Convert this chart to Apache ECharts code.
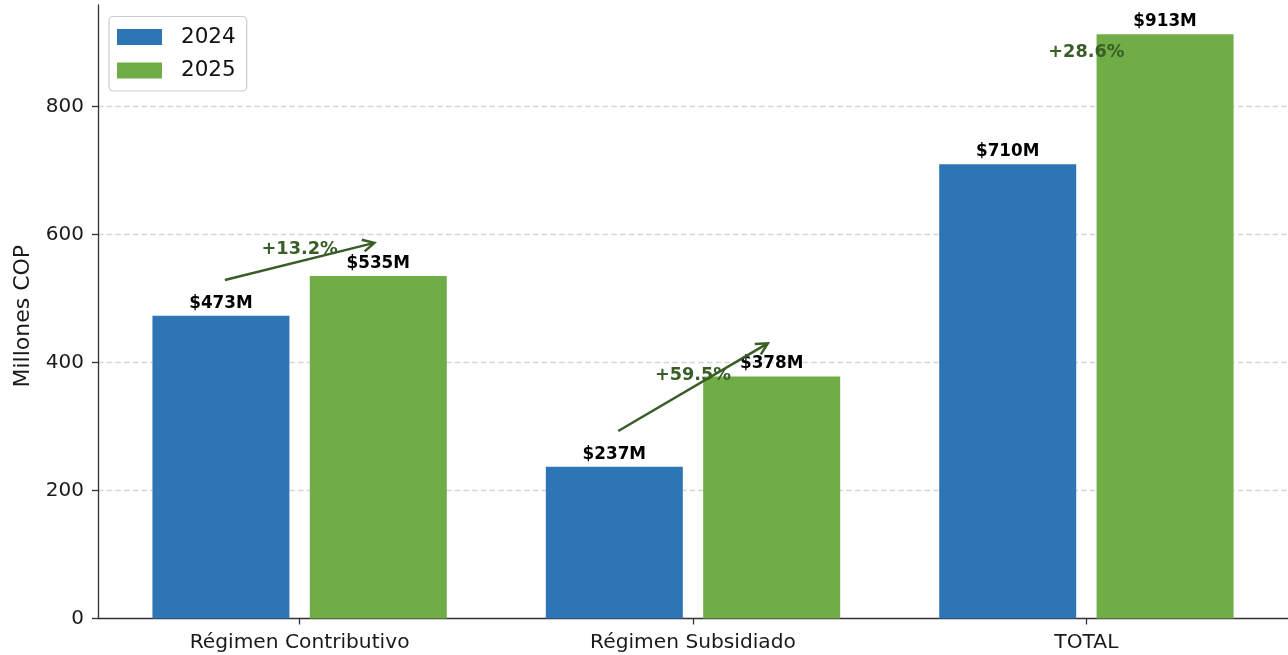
<!DOCTYPE html>
<html>
<head>
<meta charset="utf-8">
<script src="https://cdn.jsdelivr.net/npm/echarts@6/dist/echarts.min.js"></script>
<style>
html,body{margin:0;padding:0;background:#fff;}
#chart{width:1288px;height:655px;}
</style>
</head>
<body>
<div id="chart"></div>
<script>
// ---- data ----
const categories = ['Régimen Contributivo', 'Régimen Subsidiado', 'TOTAL'];
const values2024 = [473, 237, 710];
const values2025 = [535, 378, 913];
const pctLabels = ['+13.2%', '+59.5%', '+28.6%'];
const seriesNames = ['2024', '2025'];
const yTicks = [0, 200, 400, 600, 800];
const yAxisTitle = 'Millones COP';

// ---- layout helpers ----
const FONT = 'DejaVu Sans';
const BLUE = '#2E75B6';
const GREEN = '#70AD47';
const DARKGREEN = '#385D27';
const yMax = Math.max(...values2025) * 1.05;
const offsetX = 0.2;
const catIdx = categories.map((c, i) => i);

const chart = echarts.init(document.getElementById('chart'), null, {renderer: 'canvas'});

function barLabel(p) { return '$' + p.value[1] + 'M'; }

const option = {
  animation: false,
  backgroundColor: '#ffffff',
  textStyle: {fontFamily: FONT},
  grid: {left: 98, right: 0, top: 5, bottom: 36.5, containLabel: false},
  legend: {
    orient: 'vertical',
    left: 109, top: 16.5,
    padding: [9.5, 11, 9.5, 8],
    itemWidth: 45, itemHeight: 16, itemGap: 11.5,
    icon: 'rect',
    borderColor: '#cccccc', borderWidth: 1.2, borderRadius: 4,
    backgroundColor: 'rgba(255,255,255,0.8)',
    textStyle: {fontFamily: FONT, fontSize: 21.5, color: '#111', padding: [0, 0, 0, 14]},
    data: seriesNames
  },
  xAxis: {
    type: 'value', min: -0.5125, max: 2.5125,
    axisLine: {show: true, onZero: false, lineStyle: {color: '#333', width: 1.3}},
    axisTick: {show: true, customValues: catIdx, length: 6, lineStyle: {color: '#333', width: 1.3}},
    axisLabel: {customValues: catIdx, formatter: v => categories[Math.round(v)] || '',
      fontFamily: FONT, fontSize: 20.2, color: '#1a1a1a', margin: 14},
    splitLine: {show: false}
  },
  yAxis: {
    type: 'value', min: 0, max: yMax,
    name: yAxisTitle, nameLocation: 'middle', nameRotate: 90, nameGap: 64,
    nameTextStyle: {fontFamily: FONT, fontSize: 22, color: '#1a1a1a', padding: [0, 9, 0, 0]},
    axisLine: {show: true, onZero: false, lineStyle: {color: '#333', width: 1.3}},
    axisTick: {show: true, customValues: yTicks, length: 6, lineStyle: {color: '#333', width: 1.3}},
    axisLabel: {customValues: yTicks, fontFamily: FONT, fontSize: 20, color: '#1a1a1a', margin: 14},
    splitLine: {show: false}
  },
  series: [
    {
      name: 'grid', type: 'line', data: [], z: 0, silent: true,
      markLine: {
        silent: true, symbol: 'none', z: 0,
        label: {show: false},
        lineStyle: {color: '#d6d6d6', width: 1.3, type: [5.5, 3.2]},
        data: yTicks.filter(t => t > 0).map(t => ({yAxis: t}))
      }
    },
    {
      name: seriesNames[0], type: 'bar', z: 2,
      barWidth: 137, barGap: '-100%',
      itemStyle: {color: BLUE},
      label: {show: true, position: 'top', distance: 4, formatter: barLabel,
        fontFamily: FONT, fontWeight: 'bold', fontSize: 16.8, color: '#000'},
      data: values2024.map((v, i) => [i - offsetX, v])
    },
    {
      name: seriesNames[1], type: 'bar', z: 2,
      barWidth: 137, barGap: '-100%',
      itemStyle: {color: GREEN},
      label: {show: true, position: 'top', distance: 4, formatter: barLabel,
        fontFamily: FONT, fontWeight: 'bold', fontSize: 16.8, color: '#000'},
      data: values2025.map((v, i) => [i + offsetX, v])
    },
    {
      name: 'annot', type: 'custom', z: 5, silent: true, clip: false,
      data: catIdx.map(i => [i, (values2024[i] + values2025[i]) / 2]),
      encode: {x: 0, y: 1},
      renderItem: function (params, api) {
        const i = params.dataIndex;
        const a = values2024[i], b = values2025[i];
        const tp = api.coord([i, (a + b) / 2 + 73]);
        const children = [{
          type: 'text', z2: 1,
          style: {x: tp[0], y: tp[1], text: pctLabels[i], fill: DARKGREEN,
            font: 'bold 17.7px "DejaVu Sans"', align: 'center', verticalAlign: 'middle'}
        }];
        const endV = b + 52;
        if (endV <= yMax) {
          const s = api.coord([i - 0.19, a + 56]);
          const e = api.coord([i + 0.19, endV]);
          const ang = Math.atan2(e[1] - s[1], e[0] - s[0]);
          const hl = 11.5, hw = 6;
          const bx = e[0] - hl * Math.cos(ang), by = e[1] - hl * Math.sin(ang);
          const px = -Math.sin(ang) * hw, py = Math.cos(ang) * hw;
          children.push({
            type: 'polyline', z2: 2,
            shape: {points: [s, e]},
            style: {stroke: DARKGREEN, lineWidth: 2.5, fill: null}
          });
          children.push({
            type: 'polyline', z2: 2,
            shape: {points: [[bx + px, by + py], e, [bx - px, by - py]]},
            style: {stroke: DARKGREEN, lineWidth: 2.5, fill: null, lineJoin: 'miter'}
          });
        }
        return {type: 'group', children: children};
      }
    }
  ]
};
chart.setOption(option);
</script>
</body>
</html>
